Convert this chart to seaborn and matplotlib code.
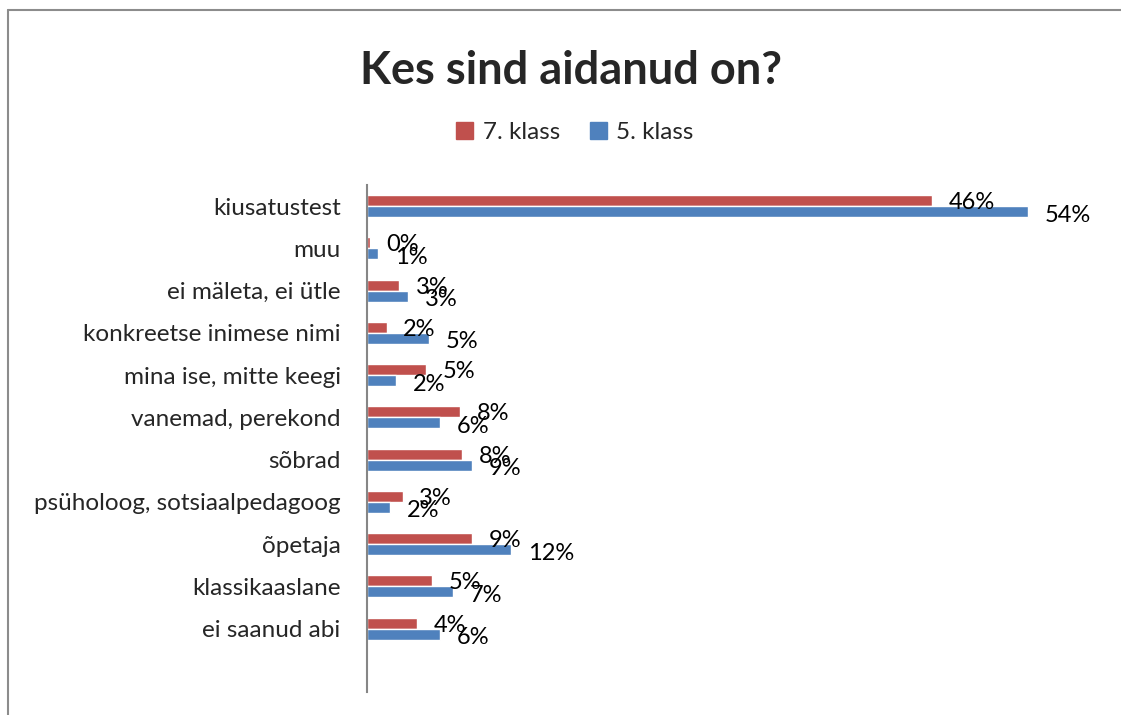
import seaborn as sns
import matplotlib.pyplot as plt
import matplotlib.lines as mlines
import pandas as pd

# Data (percent)
categories = ['kiusatustest', 'muu', 'ei mäleta, ei ütle', 'konkreetse inimese nimi',
              'mina ise, mitte keegi', 'vanemad, perekond', 'sõbrad',
              'psüholoog, sotsiaalpedagoog', 'õpetaja', 'klassikaaslane', 'ei saanud abi']
klass7 = [46.2, 0.25, 2.6, 1.6, 4.8, 7.6, 7.8, 2.9, 8.6, 5.3, 4.1]
klass5 = [54.0, 0.9, 3.35, 5.1, 2.4, 6.0, 8.6, 1.9, 11.8, 7.0, 6.0]
series = ['7. klass', '5. klass']

df = pd.DataFrame({
    'kategooria': categories * 2,
    'klass': [series[0]] * len(categories) + [series[1]] * len(categories),
    'protsent': klass7 + klass5,
})

sns.set_style("white")
plt.rcParams['font.family'] = ['Lato', 'DejaVu Sans']

fig = plt.figure(figsize=(11.21, 7.15), dpi=100)
ax = fig.add_axes([0.3274, 0.0322, 0.6551, 0.7091])

sns.barplot(data=df, x='protsent', y='kategooria', hue='klass', order=categories,
            hue_order=series, palette=['#C0504D', '#4F81BD'], width=0.52,
            orient='h', errorbar=None, saturation=1, ax=ax, legend=False)

# axis reserves room for one more (empty) row at the bottom, like the original
ax.set_xlim(0, 60)
ax.set_ylim(len(categories) + 0.5, -0.5)
ax.set_xlabel('')
ax.set_ylabel('')
ax.set_xticks([])
ax.tick_params(axis='y', length=0, pad=19, labelsize=17.5)
for s in ['top', 'right', 'bottom']:
    ax.spines[s].set_visible(False)
ax.spines['left'].set_color('#868686')
ax.spines['left'].set_linewidth(1.5)

# value labels (nudged slightly down, as in the original)
for cont, vals, dy in zip(ax.containers, [klass7, klass5], [-1.5, -2.5]):
    texts = ax.bar_label(cont, labels=[f"{v:.0f}%" for v in vals], padding=12,
                         fontsize=17, color='black')
    for t in texts:
        t.xyann = (12, dy)

# title and legend
fig.text(0.509, 0.900, 'Kes sind aidanud on?', ha='center', va='center',
         fontsize=32.5, fontweight='bold')
handles = [plt.Rectangle((0, 0), 1, 1, color=c) for c in ['#C0504D', '#4F81BD']]
fig.legend(handles, series, loc='center', bbox_to_anchor=(0.513, 0.815), ncol=2,
           frameon=False, fontsize=17.5, handlelength=0.7, handleheight=0.7,
           handletextpad=0.4, columnspacing=1.2)

# partial outer frame
fig.add_artist(mlines.Line2D([8 / 1121, 8 / 1121], [0, 1 - 9.5 / 715],
                             transform=fig.transFigure, color='#8c8c8c', lw=1.5))
fig.add_artist(mlines.Line2D([8 / 1121, 1], [1 - 9.5 / 715, 1 - 9.5 / 715],
                             transform=fig.transFigure, color='#8c8c8c', lw=1.5))

fig.savefig('out.png', dpi=100, facecolor='white')
plt.close(fig)
